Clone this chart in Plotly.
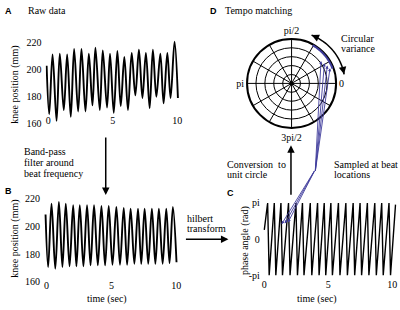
import math
import plotly.graph_objects as go

# ---------------- data ----------------
# Panel A: raw knee position, alternating extrema (sec, mm)
a_times = [-0.12, 0.08, 0.34, 0.65, 0.90, 1.21, 1.47, 1.75, 2.01, 2.32, 2.58, 2.89, 3.15, 3.43,
           3.66, 4.00, 4.23, 4.56, 4.79, 5.08, 5.36, 5.62, 5.90, 6.18, 6.47, 6.75, 7.03, 7.30,
           7.57, 7.86, 8.11, 8.38, 8.69, 8.94, 9.23, 9.48, 9.79, 10.05]
a_values = [203, 167, 211.5, 162, 212, 170, 211.5, 165, 215.5, 169, 215.5, 169, 212, 173.5,
            216.5, 170, 214.5, 172, 212, 168, 214, 173, 209.5, 170, 212.5, 181, 215, 179,
            212.5, 171.5, 215, 180, 212, 175, 212.5, 179, 221, 179]

# Panel B: band-pass filtered knee position, alternating extrema
b_times = [-0.08, 0.12, 0.38, 0.67, 0.95, 1.22, 1.48, 1.77, 2.05, 2.30, 2.56, 2.84, 3.12, 3.39,
           3.66, 3.95, 4.23, 4.51, 4.79, 5.08, 5.38, 5.66, 5.95, 6.21, 6.48, 6.77, 7.05, 7.30,
           7.56, 7.84, 8.12, 8.39, 8.66, 8.95, 9.23, 9.48, 9.74, 10.02]
b_values = [208.7, 170.6, 216.5, 169.4, 217.7, 170.6, 216.5, 171.1, 215.3, 171.1, 215.3, 171.1,
            215.3, 171.8, 215.3, 171.8, 214.8, 171.8, 214.8, 172.2, 214.1, 172.2, 213.4, 172.2,
            212.9, 172.9, 212.9, 172.9, 212.9, 172.9, 212.9, 172.9, 212.9, 172.9, 212.9, 173.4,
            214.1, 174]

# Panel C: phase angle, times at which the phase wraps from pi to -pi
c_start = (0.0, 0.8)
c_wrap_times = [0.26, 0.78, 1.30, 1.89, 2.47, 2.98, 3.59, 4.16, 4.68, 5.20, 5.79, 6.37, 6.94,
                7.48, 8.05, 8.63, 9.17, 9.74]
c_drop = 0.12
c_end = (10.25, 3.0)

# beat samples in C (time, phase)
beat_t = [1.35, 1.6, 1.85]
beat_phase = [1.3, 1.35, 1.45]

# Panel D: sampled phases on the unit circle (deg) and arrow targets
arc_phase_deg = [20, 25, 30, 35, 40, 45, 50, 55, 61]
d_arrow_theta = [38, 32, 27, 22]
d_arrow_r = [0.82, 0.85, 0.88, 0.91]

a_yticks = [160, 180, 200, 220]
t_ticks = [0, 5, 10]
c_ytick_vals = [-math.pi, 0, math.pi]
c_ytick_text = ['-pi', '0', 'pi']
ang_vals = list(range(0, 360, 30))
ang_text = ['0', '', '', 'pi/2', '', '', 'pi', '', '', '3pi/2', '', '']

# ---------------- layout helpers ----------------
W, H = 400, 310
def px(x):
    return x / W
def py(y):
    return 1 - y / H

SERIF = '"Liberation Serif", "Times New Roman", serif'
SANS = '"Liberation Sans", Arial, sans-serif'
PURPLE = '#3f3c9c'

# panel geometry (pixels)
A_dom_x = (45.7, 181.6); A_dom_y = (33.1, 129.6)
B_dom_x = (44.1, 180.6); B_dom_y = (192.9, 292.1)
C_dom_x = (262.4, 397.8); C_dom_y = (202.4, 280.2)
C_rng_x = (-0.2, 10.35); C_rng_y = (-3.3, 3.3)
D_cx, D_cy, D_R = 292.3, 81.5, 45.7

def c_data_from_px(xp, yp):
    t = C_rng_x[0] + (xp - C_dom_x[0]) / (C_dom_x[1] - C_dom_x[0]) * (C_rng_x[1] - C_rng_x[0])
    ph = C_rng_y[1] - (yp - C_dom_y[0]) / (C_dom_y[1] - C_dom_y[0]) * (C_rng_y[1] - C_rng_y[0])
    return t, ph

def d_px(r, theta_deg):
    th = math.radians(theta_deg)
    return D_cx + r * D_R * math.cos(th), D_cy - r * D_R * math.sin(th)

# build C series
c_x = [c_start[0]]
c_y = [c_start[1]]
for w in c_wrap_times:
    c_x += [w, w + c_drop]
    c_y += [math.pi, -math.pi]
c_x.append(c_end[0]); c_y.append(c_end[1])

fig = go.Figure()
fig.add_trace(go.Scatter(x=a_times, y=a_values, mode='lines', xaxis='x', yaxis='y',
                         line=dict(color='black', width=1.9, shape='spline'), hoverinfo='skip'))
fig.add_trace(go.Scatter(x=b_times, y=b_values, mode='lines', xaxis='x2', yaxis='y2',
                         line=dict(color='black', width=1.9, shape='spline'), hoverinfo='skip'))
fig.add_trace(go.Scatter(x=c_x, y=c_y, mode='lines', xaxis='x3', yaxis='y3',
                         line=dict(color='black', width=1.4), hoverinfo='skip'))

# polar D
fig.add_trace(go.Scatterpolar(r=[1] * len(arc_phase_deg), theta=arc_phase_deg, mode='lines',
                              line=dict(color=PURPLE, width=4), subplot='polar', hoverinfo='skip'))
fig.add_trace(go.Scatterpolar(r=[0], theta=[0], mode='markers', marker=dict(color='black', size=4),
                              subplot='polar', hoverinfo='skip'))

tickfont = dict(family=SERIF, size=10, color='black')
common_x = dict(showgrid=False, zeroline=False, showline=False, ticks='', tickfont=tickfont,
                tickvals=t_ticks)
common_y = dict(showgrid=False, zeroline=False, showline=False, ticks='', tickfont=tickfont)

fig.update_layout(
    width=W, height=H, margin=dict(l=0, r=0, t=0, b=0),
    font=dict(family=SERIF, size=10, color='black'),
    paper_bgcolor='white', plot_bgcolor='rgba(0,0,0,0)', showlegend=False,
    xaxis=dict(domain=[px(A_dom_x[0]), px(A_dom_x[1])], range=[-0.2, 10.3], anchor='free',
               position=py(112), **common_x),
    yaxis=dict(domain=[py(A_dom_y[1]), py(A_dom_y[0])], range=[155, 225], tickvals=a_yticks,
               anchor='x', ticklabelstandoff=3, **common_y),
    xaxis2=dict(domain=[px(B_dom_x[0]), px(B_dom_x[1])], range=[-0.2, 10.3], anchor='free',
                position=py(281), **common_x),
    yaxis2=dict(domain=[py(B_dom_y[1]), py(B_dom_y[0])], range=[155, 225], tickvals=a_yticks,
                anchor='x2', ticklabelstandoff=3, **common_y),
    xaxis3=dict(domain=[px(C_dom_x[0]), px(C_dom_x[1])], range=list(C_rng_x), anchor='free',
                position=py(280), **common_x),
    yaxis3=dict(domain=[py(C_dom_y[1]), py(C_dom_y[0])], range=list(C_rng_y),
                tickvals=c_ytick_vals, ticktext=c_ytick_text, anchor='x3', ticklabelstandoff=1,
                **common_y),
    polar=dict(
        domain=dict(x=[px(D_cx - D_R), px(D_cx + D_R)], y=[py(D_cy + D_R), py(D_cy - D_R)]),
        bgcolor='white',
        radialaxis=dict(range=[0, 1], tickvals=[0.2, 0.4, 0.6, 0.8], showticklabels=False,
                        ticks='', showline=False, gridcolor='black', gridwidth=0.7),
        angularaxis=dict(tickmode='array', tickvals=ang_vals, ticktext=ang_text, ticks='',
                         rotation=0, direction='counterclockwise', showline=True,
                         linecolor='black', linewidth=2, gridcolor='black', gridwidth=0.7,
                         layer='below traces', tickfont=tickfont),
    ),
)

ann = []
def text(x, y, s, size=10, family=SERIF, xanchor='left', angle=0):
    ann.append(dict(x=px(x), y=py(y), xref='paper', yref='paper', text=s, showarrow=False,
                    xanchor=xanchor, yanchor='middle', textangle=angle,
                    font=dict(family=family, size=size, color='black')))

# panel letters and titles
text(3, 7, '<b>A</b>', size=9, family=SANS)
text(26, 7, 'Raw data')
text(3, 192, '<b>B</b>', size=9, family=SANS)
text(226, 194, '<b>C</b>', size=9, family=SANS)
text(209, 7, '<b>D</b>', size=9, family=SANS)
text(224, 7, 'Tempo matching')
# axis titles
text(15, 83, 'knee position (mm)', xanchor='center', angle=-90)
text(15, 241, 'knee position (mm)', xanchor='center', angle=-90)
text(107, 303, 'time (sec)', xanchor='center')
text(245, 243, 'phase angle (rad)', xanchor='center', angle=-90)
text(318, 303, 'time (sec)', xanchor='center')
# notes
text(22, 151.5, 'Band-pass')
text(22, 162.5, 'filter around')
text(22, 173.5, 'beat frequency')
text(185, 220, 'hilbert')
text(185, 230.5, 'transform')
text(226, 165, 'Conversion  to')
text(226, 175.5, 'unit circle')
text(333, 165, 'Sampled at beat')
text(333, 175.5, 'locations')
text(340, 35, 'Circular')
text(340, 46, 'variance')

# arrows in pixel coordinates (head x1,y1; tail x0,y0)
def arrow(x0, y0, x1, y1, color='black', width=1.5, head=2, size=1.0):
    ann.append(dict(x=px(x1), y=py(y1), xref='paper', yref='paper', axref='pixel', ayref='pixel',
                    ax=x0 - x1, ay=y0 - y1, text='', showarrow=True, arrowhead=head,
                    arrowsize=size, arrowwidth=width, arrowcolor=color))

arrow(106, 137, 106, 196)
arrow(185, 241.5, 229, 241.5)
arrow(291.7, 196, 291.7, 145)

# purple sample arrows: C heads in data coords, tails at schematic vertex
vx, vy = 316, 170
tv, phv = c_data_from_px(vx, vy)
for t, ph in zip(beat_t, beat_phase):
    ann.append(dict(x=t, y=ph, ax=tv, ay=phv, xref='x3', yref='y3', axref='x3', ayref='y3',
                    text='', showarrow=True, arrowhead=2, arrowsize=0.7, arrowwidth=0.9,
                    arrowcolor=PURPLE))
for r, th in zip(d_arrow_r, d_arrow_theta):
    hx, hy = d_px(r, th)
    arrow(vx, vy, hx, hy, color=PURPLE, width=0.9, head=2, size=0.7)

# curved double arrow for circular variance
arc_r = 1.17
ths = [68 - i * (58 / 30) for i in range(31)]
pts = [d_px(arc_r, th) for th in ths]
path = 'M ' + ' L '.join(f'{px(x):.5f},{py(y):.5f}' for x, y in pts)
fig.add_shape(type='path', path=path, xref='paper', yref='paper',
              line=dict(color='black', width=1.5))
for a, b in [(ths[2], ths[0]), (ths[-3], ths[-1])]:
    x0, y0 = d_px(arc_r, a)
    x1, y1 = d_px(arc_r, b)
    arrow(x0, y0, x1, y1, width=1.5, head=2, size=1.0)

fig.update_layout(annotations=ann)
fig.write_html('out.html', config={'displayModeBar': False, 'responsive': False},
               post_script="document.body.style.margin='0';document.body.style.padding='0';")
